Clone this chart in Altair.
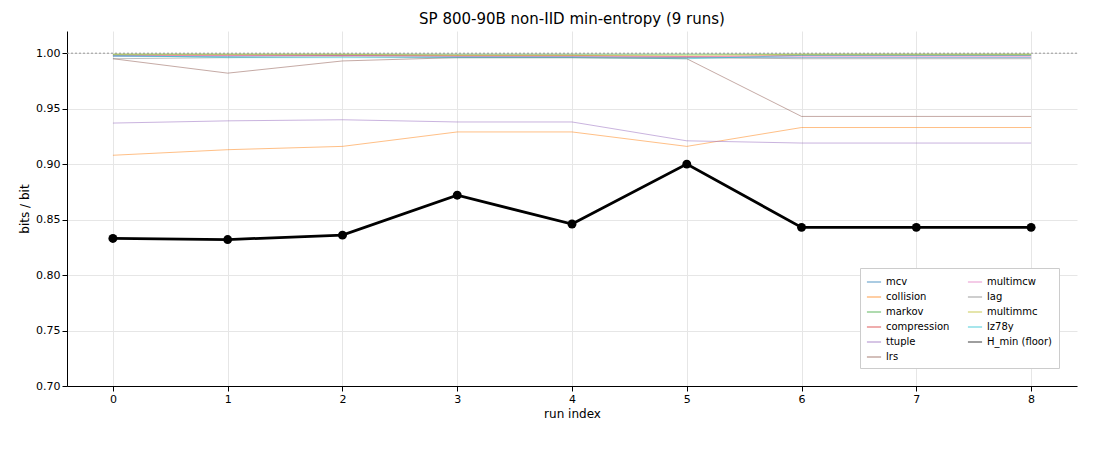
import altair as alt
import pandas as pd

runs = list(range(9))
mcv = [0.997, 0.997, 0.998, 0.997, 0.997, 0.996, 0.996, 0.996, 0.996]
collision = [0.908, 0.913, 0.916, 0.929, 0.929, 0.916, 0.933, 0.933, 0.933]
markov = [0.999, 0.999, 0.999, 0.999, 0.999, 0.999, 0.999, 0.999, 0.999]
compression = [0.998, 0.998, 0.998, 0.998, 0.998, 0.997, 0.998, 0.998, 0.998]
ttuple = [0.937, 0.939, 0.940, 0.938, 0.938, 0.921, 0.919, 0.919, 0.919]
lrs = [0.995, 0.982, 0.993, 0.996, 0.996, 0.995, 0.943, 0.943, 0.943]
multimcw = [0.998, 0.998, 0.998, 0.997, 0.997, 0.997, 0.997, 0.997, 0.997]
lag = [0.995, 0.996, 0.997, 0.996, 0.996, 0.996, 0.995, 0.995, 0.995]
multimmc = [0.999, 0.999, 0.999, 0.998, 0.998, 0.998, 0.999, 0.999, 0.999]
lz78y = [0.998, 0.996, 0.996, 0.996, 0.996, 0.995, 0.998, 0.998, 0.998]
h_min = [0.833, 0.832, 0.836, 0.872, 0.846, 0.900, 0.843, 0.843, 0.843]
ref_level = [1.0]

series = {"mcv": mcv, "collision": collision, "markov": markov, "compression": compression,
          "ttuple": ttuple, "lrs": lrs, "multimcw": multimcw, "lag": lag,
          "multimmc": multimmc, "lz78y": lz78y}
colors = ["#1f77b4", "#ff7f0e", "#2ca02c", "#d62728", "#9467bd", "#8c564b",
          "#e377c2", "#7f7f7f", "#bcbd22", "#17becf"]
names = list(series) + ["H_min (floor)"]

rows = []
for n, vals in series.items():
    for r, v in zip(runs, vals):
        rows.append({"run": r, "v": v, "s": n})
df = pd.DataFrame(rows)
dh = pd.DataFrame({"run": runs, "v": h_min, "s": "H_min (floor)"})

x = alt.X("run:Q", title="run index", scale=alt.Scale(domain=[-0.4, 8.4], nice=False),
          axis=alt.Axis(values=runs, format="d", grid=True, gridColor="#e6e6e6"))
y = alt.Y("v:Q", title="bits / bit", scale=alt.Scale(domain=[0.70, 1.02], nice=False, zero=False),
          axis=alt.Axis(values=[0.70, 0.75, 0.80, 0.85, 0.90, 0.95, 1.00], format=".2f",
                        grid=True, gridColor="#e6e6e6"))
color = alt.Color("s:N", scale=alt.Scale(domain=names, range=colors + ["black"]),
                  legend=alt.Legend(title=None, orient="bottom-right", columns=2,
                                    symbolType="stroke", labelFontSize=10, symbolSize=200,
                                    fillColor="white", strokeColor="#ccc", padding=6,
                                    columnPadding=14, rowPadding=2))

ref = alt.Chart(pd.DataFrame({"v": ref_level})).mark_rule(
    color="#999", strokeDash=[2, 2], strokeWidth=1).encode(y=y)
lines = alt.Chart(df).mark_line(strokeWidth=1, opacity=0.5).encode(x=x, y=y, color=color)
hl = alt.Chart(dh).mark_line(strokeWidth=2.8, point=alt.OverlayMarkDef(size=80, filled=True, color="black")).encode(x=x, y=y, color=color)

chart = alt.layer(ref, lines, hl).properties(
    width=1010, height=355,
    title=alt.Title("SP 800-90B non-IID min-entropy (9 runs)", fontSize=15, fontWeight="normal", font="DejaVu Sans"),
).configure_axis(labelFont="DejaVu Sans", titleFont="DejaVu Sans", labelFontSize=11,
                 titleFontSize=12, titleFontWeight="normal", domainColor="black", tickColor="black"
).configure_legend(labelFont="DejaVu Sans").configure_view(stroke=None).properties(
    padding={"left": 10, "top": 4, "right": 5, "bottom": 5})

chart.save("out.html", embed_options={"renderer": "svg", "actions": False})
